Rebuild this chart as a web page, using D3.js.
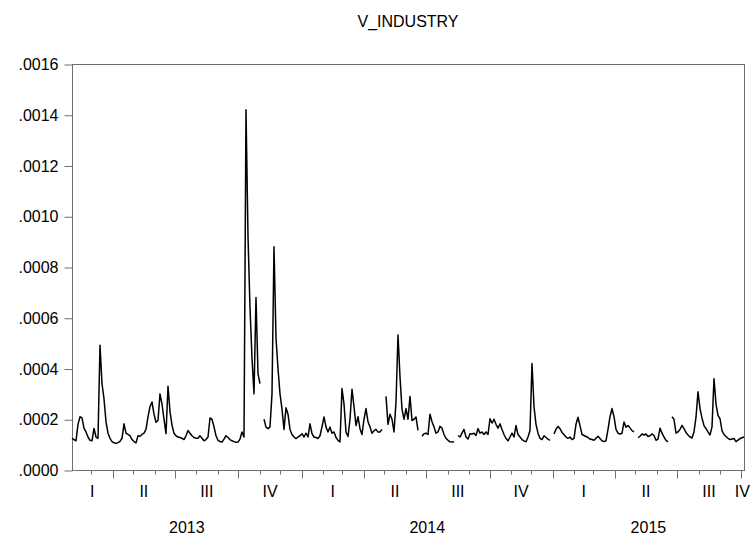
<!DOCTYPE html>
<html>
<head>
<meta charset="utf-8">
<script src="https://cdn.jsdelivr.net/npm/d3@7/dist/d3.min.js"></script>
<style>
body { margin: 0; background: #fff; }
text { font-family: "Liberation Sans", Arial, sans-serif; font-size: 16px; fill: #000; }
</style>
</head>
<body>
<div id="chart"></div>
<script>
var title = "V_INDUSTRY";

// series, in units of 1e-4, about every second trading day; null = holiday break
var vol = [
  1.25,1.2,1.15,1.8,2.1,2.05,1.65,1.5,1.3,1.17,
  1.15,1.64,1.3,1.25,4.92,3.4,2.8,1.9,1.45,1.25,
  1.12,1.07,1.05,1.08,1.13,1.25,1.82,1.45,1.4,1.35,
  1.2,1.12,1.07,1.35,1.33,1.4,1.45,1.6,2.09,2.5,
  2.68,2.2,1.88,1.95,3.0,2.6,2.0,1.43,3.3,2.3,
  1.77,1.45,1.35,1.3,1.28,1.25,1.2,1.35,1.56,1.45,
  1.35,1.28,1.25,1.25,1.35,1.25,1.15,1.2,1.3,2.05,
  2.0,1.7,1.35,1.17,1.12,1.1,1.22,1.35,1.28,1.2,
  1.15,1.12,1.09,1.1,1.22,1.5,1.3,14.2,9.2,6.4,
  4.4,3.0,6.8,3.8,3.4,null,2.0,1.69,1.63,1.7,
  3.0,8.8,5.2,4.0,3.0,2.4,1.6,2.45,2.2,1.6,
  1.4,1.3,1.24,1.3,1.35,1.43,1.3,1.45,1.3,1.82,
  1.43,1.3,1.28,1.24,1.35,1.7,2.09,1.69,1.5,1.69,
  1.45,1.5,1.28,1.17,1.11,3.21,2.6,1.5,1.32,2.0,
  3.18,2.5,1.75,2.1,1.63,1.4,2.0,2.42,1.9,1.7,
  1.45,1.55,1.6,1.5,1.5,1.6,null,2.9,1.8,2.2,
  2.0,1.5,2.68,5.32,3.67,2.4,2.0,2.42,2.0,2.9,
  1.95,2.0,2.09,1.56,null,1.33,1.43,1.45,1.4,2.2,
  1.9,1.7,1.45,1.5,1.72,1.65,1.4,1.25,1.17,1.11,
  1.1,1.11,null,1.36,1.3,1.45,1.6,1.3,1.22,1.43,
  1.42,1.45,1.36,1.63,1.45,1.5,1.4,1.5,1.4,2.02,
  1.85,2.0,1.8,1.65,1.82,1.6,1.4,1.24,1.15,1.3,
  1.45,1.3,1.75,1.4,1.3,1.2,1.15,1.11,1.3,1.56,
  4.2,2.5,1.8,1.45,1.25,1.2,1.35,1.28,1.22,1.17,
  null,1.42,1.6,1.72,1.63,1.48,1.4,1.3,1.25,1.3,
  1.2,1.25,1.8,2.08,1.75,1.4,1.36,1.32,1.28,1.22,
  1.2,1.17,1.25,1.33,1.24,1.15,1.12,1.15,1.6,2.1,
  2.42,2.1,1.6,1.45,1.42,1.45,1.89,1.69,1.75,1.66,
  1.55,1.5,null,1.27,1.33,1.42,1.38,1.42,1.32,1.35,
  1.42,1.36,1.17,1.22,1.65,1.45,1.3,1.17,1.11,null,
  2.1,2.0,1.45,1.5,1.6,1.76,1.63,1.48,1.38,1.3,
  1.26,1.5,2.08,3.08,2.42,2.05,1.75,1.63,1.5,1.38,
  1.7,3.6,2.6,2.15,2.02,1.55,1.4,1.32,1.25,1.2,
  1.22,1.24,1.12,1.18,1.24,1.27,1.3
];

var startDate = new Date(2013, 1, 1);
var endDate = new Date(2015, 9, 6);
var yTicks = [0, .0002, .0004, .0006, .0008, .0010, .0012, .0014, .0016];
var quarterNames = ["I", "II", "III", "IV"];

var chart = {}
chart.width = 752;
chart.height = 536;
chart.margin = {top: 64, right: 8, bottom: 66, left: 72};
chart.w = chart.width - chart.margin.left - chart.margin.right;
chart.h = chart.height - chart.margin.top - chart.margin.bottom;

var svg = d3.select("#chart")
  .append("svg")
  .attr("width", chart.width)
  .attr("height", chart.height)

svg.append("text")
  .attr("x", chart.margin.left + chart.w / 2)
  .attr("y", 27)
  .attr("text-anchor", "middle")
  .text(title)

var g = svg.append("g")
  .attr("transform", "translate(" + chart.margin.left + "," + chart.margin.top + ")")

var x = d3.scaleLinear().domain([0, vol.length - 1]).range([0, chart.w]);
var t = d3.scaleTime().domain([startDate, endDate]).range([0, chart.w]);
var y = d3.scaleLinear().domain([0, .0016]).range([chart.h, 0]);

// frame
g.append("rect")
  .attr("x", 0.5)
  .attr("y", 0.5)
  .attr("width", chart.w)
  .attr("height", chart.h)
  .attr("fill", "none")
  .attr("stroke", "#6e6e6e")
  .attr("stroke-width", 1)

// y axis
var yAxis = g.append("g")
  .attr("transform", "translate(0.5,0.5)")
  .call(d3.axisLeft(y).tickValues(yTicks).tickSize(8).tickPadding(6)
    .tickFormat(d => d3.format(".4f")(d).replace(/^0/, "")))
yAxis.select(".domain").remove()
yAxis.selectAll("line").attr("stroke", "#6e6e6e")
yAxis.selectAll("text").attr("font-size", null).attr("font-family", null).attr("fill", "#000")

// x axis, monthly ticks, quarters longer
var months = d3.timeMonth.range(d3.timeMonth.ceil(new Date(2013, 1, 2)), endDate);
g.append("g")
  .selectAll("line")
  .data(months)
  .enter()
  .append("line")
  .attr("x1", d => Math.round(t(d)) + 0.5)
  .attr("x2", d => Math.round(t(d)) + 0.5)
  .attr("y1", chart.h + 0.5)
  .attr("y2", d => chart.h + 0.5 + (d.getMonth() % 3 === 0 ? 8 : 4))
  .attr("stroke", "#6e6e6e")

var quarters = d3.timeMonth.every(3).range(new Date(2013, 0, 1), endDate);
g.append("g")
  .selectAll("text")
  .data(quarters)
  .enter()
  .append("text")
  .attr("x", d => {
    var a = d < startDate ? startDate : d;
    var e = d3.timeMonth.offset(d, 3);
    var b = e > endDate ? endDate : e;
    return (t(a) + t(b)) / 2;
  })
  .attr("y", chart.h + 27)
  .attr("text-anchor", "middle")
  .text(d => quarterNames[d.getMonth() / 3])

var years = d3.timeYear.range(new Date(2013, 0, 1), endDate);
g.append("g")
  .selectAll("text")
  .data(years)
  .enter()
  .append("text")
  .attr("x", d => {
    var a = d < startDate ? startDate : d;
    var e = d3.timeYear.offset(d, 1);
    var b = e > endDate ? endDate : e;
    return (t(a) + t(b)) / 2;
  })
  .attr("y", chart.h + 63)
  .attr("text-anchor", "middle")
  .text(d => d.getFullYear())

// series line
var line = d3.line()
  .defined(d => d !== null)
  .x((d, i) => x(i))
  .y(d => y(d * 1e-4));

g.append("path")
  .datum(vol)
  .attr("d", line)
  .attr("fill", "none")
  .attr("stroke", "#000")
  .attr("stroke-width", 1.5)
  .attr("stroke-linejoin", "round")
</script>
</body>
</html>
